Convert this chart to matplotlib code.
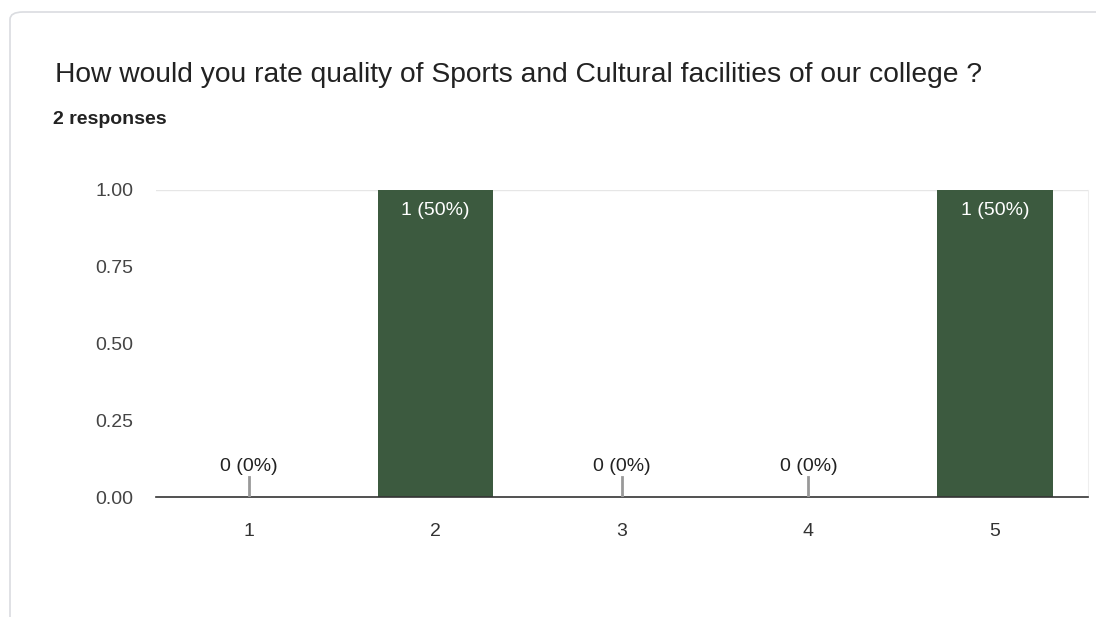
import matplotlib
matplotlib.use("Agg")
import matplotlib.pyplot as plt
from matplotlib.patches import FancyBboxPatch

categories = ["1", "2", "3", "4", "5"]
counts = [0, 1, 0, 0, 1]
total = 2
yticks = [0.0, 0.25, 0.5, 0.75, 1.0]
title = "How would you rate quality of Sports and Cultural facilities of our college ?"
subtitle = "2 responses"

bar_color = "#3c5a3f"
text_color = "#222222"
tick_color = "#444444"

plt.rcParams['font.family'] = ['Liberation Sans', 'DejaVu Sans']

W, H = 1096, 617
fig = plt.figure(figsize=(W / 100, H / 100), dpi=100)
fig.patch.set_facecolor("white")

# card border
card = FancyBboxPatch((10 / W, -40 / H), 1200 / W, (H - 12 + 40) / H,
                      boxstyle="round,pad=0,rounding_size=0.012",
                      transform=fig.transFigure, facecolor="white",
                      edgecolor="#dadce0", linewidth=1.2, zorder=-10)
fig.patches.append(card)

fig.text(55 / W, 1 - 75 / H, title, fontsize=20.3, color=text_color,
         ha="left", va="center")
fig.text(53 / W, 1 - 119 / H, subtitle, fontsize=14, fontweight="bold",
         color=text_color, ha="left", va="center")

ax = fig.add_axes([156 / W, 1 - 497 / H, (1088 - 156) / W, (497 - 190) / H])
ax.set_facecolor("none")
x = list(range(1, len(categories) + 1))
ax.bar(x, counts, width=0.62, color=bar_color, zorder=2)
ax.set_xlim(0.5, 5.5)
ax.set_ylim(0, 1.0)
ax.set_xticks(x)
ax.set_xticklabels(categories)
ax.set_yticks(yticks)
ax.set_yticklabels([f"{v:.2f}" for v in yticks])
ax.tick_params(axis="both", length=0, labelsize=14, colors=tick_color)
ax.tick_params(axis="x", pad=19, colors="#333333")
ax.tick_params(axis="y", pad=16.5)
for s in ["top", "left"]:
    ax.spines[s].set_visible(False)
ax.spines["right"].set_color("#eeeeee")
ax.spines["bottom"].set_color("#333333")
ax.spines["bottom"].set_linewidth(1.2)
ax.axhline(1.0, color="#e6e6e6", linewidth=1, zorder=1)

for xi, c in zip(x, counts):
    label = f"{c} ({c / total * 100:.0f}%)"
    if c == 0:
        ax.plot([xi, xi], [0, 0.065], color="#999999", linewidth=2, zorder=3)
        ax.text(xi, 0.1, label, ha="center", va="center", fontsize=14,
                color=text_color)
    else:
        ax.text(xi, c - 0.068, label, ha="center", va="center", fontsize=14,
                color="white")

fig.savefig("out.png", dpi=100, facecolor="white")
